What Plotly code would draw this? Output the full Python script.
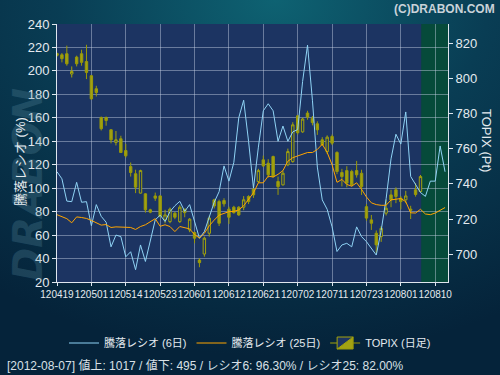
import base64
import plotly.graph_objects as go

# ---------------- data ----------------
tick_labels = ["120419", "120501", "120514", "120523", "120601", "120612",
               "120621", "120702", "120711", "120723", "120801", "120810"]
tick_step = 7  # trading days between labels

# TOPIX daily candles (open, high, low, close)
topix_open = [814, 813.3, 813.9, 802.4, 812, 813.9, 809.5, 801.4, 794, 777.7,
              777.7, 770.7, 763.5, 765.6, 758.9, 749.8, 745.7, 734.7, 734.3, 725.2,
              733.1, 733.1, 719.5, 718.5, 723.3, 718.5, 725.6, 713.8, 712.3, 696.7,
              700.1, 711.9, 730.9, 729.9, 730.5, 725.6, 726.7, 726.7, 726.7, 732.8,
              737, 741.3, 753.6, 751.7, 755.5, 741.3, 739.4, 750.8, 752.6, 778.6,
              769.5, 780.2, 777.3, 774.1, 765, 758.3, 766.9, 757.8, 746.4, 747.5,
              747, 747.5, 746, 727, 719.5, 711.9, 710, 723.3, 733.7, 736.6,
              731.8, 730.9, 725.6, 736.6, 735.6]
topix_high = [814.5, 814.3, 818.5, 806.7, 812.8, 816.2, 819, 801.8, 795.7, 778.2,
              778.2, 771, 770, 767.3, 762.7, 752.1, 748, 748, 734.7, 725.8,
              735, 733.5, 725.2, 726.5, 724, 727.8, 725.8, 720.5, 712.8, 697.7,
              710, 721.8, 731.5, 731, 731.8, 727, 727.5, 727.3, 733, 733.5,
              740, 748.5, 756, 754, 756, 744.1, 747.5, 760, 775, 779,
              777.5, 781.5, 778.5, 775.5, 766.5, 767.5, 768, 758.5, 748.5, 750,
              748, 753, 748, 728.5, 722.3, 713.5, 716, 731, 736.6, 738,
              733, 736, 727.5, 740.4, 745]
topix_low = [812.3, 809, 807.1, 800.4, 806.7, 807.1, 799.5, 787.7, 789.6, 770.3,
             773, 763, 761.8, 757.6, 754.9, 744.1, 734.7, 734.5, 723.6, 723.3,
             730.3, 721, 717.6, 717.6, 719.9, 717.8, 721, 712.5, 706.2, 692.6,
             698.6, 710, 726, 716, 727, 717.2, 723, 721.8, 725, 728.5,
             732, 740.5, 749.5, 743.5, 743.5, 733.7, 739, 750, 752, 768,
             769, 776.4, 773.2, 767.8, 761.5, 757, 762, 745.5, 738.5, 738,
             738.5, 743.5, 733.7, 719, 713.8, 700.5, 707, 722, 726.7, 729,
             725.5, 729, 720, 732.7, 735]
topix_close = [813, 811.1, 808.2, 803.8, 808.2, 809, 803.3, 788.3, 791.9, 771.3,
               776, 765, 765, 757.8, 755.9, 746.4, 738.1, 747.5, 725.2, 723.9,
               731.8, 721.4, 722.3, 725.6, 721, 726.7, 723.6, 719.9, 709.1, 695.2,
               709.1, 720.5, 727.4, 717.6, 728.6, 721, 723.6, 722.3, 730.9, 729.9,
               733.7, 747.5, 750.2, 745.1, 744.1, 738.4, 746, 758.3, 773.5, 769,
               776.8, 777.9, 774.8, 770.7, 762.2, 766.5, 763.1, 747, 744.1, 740.4,
               739.4, 745.1, 738.4, 720.5, 717.6, 705.3, 714.7, 726.1, 730.9, 732.8,
               729.9, 733.1, 725, 733.9, 744.1]

# 騰落レシオ (6日)
ratio6 = [114, 108, 89, 88.5, 105, 88, 88.5, 68, 86, 76,
          71, 50, 60, 58.7, 41.5, 45.8, 30.5, 51.6, 37.5, 54.4,
          73, 77, 71.6, 80, 85, 88.8, 80.2, 86, 71.6, 57.3,
          63, 76, 88, 97, 119, 106, 122, 160, 175, 140,
          100, 135, 166, 172, 166, 140, 153, 140, 148, 150,
          191, 222, 175, 118, 90, 82, 67, 46, 51.6, 53,
          50, 67, 58.7, 54.4, 49, 43, 64, 91, 125, 146,
          137.6, 165, 110, 103, 96.3, 93, 106, 106, 136, 114]
# 騰落レシオ (25日)
ratio25 = [77.4, 76, 74, 70.5, 75.5, 75, 74.2, 72.5, 70.8, 68.5,
           69, 66.5, 67, 66.8, 67, 66.5, 64.8, 67.3, 68.8, 71.5,
           74, 67.5, 68.8, 67.3, 63, 67.3, 66.4, 65.3, 60.5, 57.5,
           61.5, 68, 72.8, 77, 78.5, 80, 80.2, 81.5, 85, 90.5,
           96, 104.6, 104.6, 110.3, 109.5, 111.8, 115, 123, 126, 127.5,
           129, 130.4, 130.4, 133, 137.5, 130.5, 120, 105, 107.5, 103.2,
           101.7, 104.6, 99, 92.5, 87.5, 86, 85.4, 85.4, 90, 90.3,
           91.2, 88.5, 79, 78.8, 82.0, 78, 77.4, 78.8, 80.8, 83.5]

footer_text = "[2012-08-07] 値上: 1017 / 値下: 495 / レシオ6: 96.30% / レシオ25: 82.00%"

# ---------------- styling ----------------
FONT = "Liberation Sans, Noto Sans CJK JP, sans-serif"
TXT = "#e4eaef"
PLOT_BG = "#1c3462"
GREEN_BG = "#064a3a"
GRID = "rgba(200,210,230,0.45)"
AXLINE = "#dfe6ee"

W, H = 500, 375
L, R, T, B = 57, 52, 24, 93
pw, ph = W - L - R, H - T - B

cx = list(range(len(topix_open)))
lx = list(range(len(ratio6)))
tickvals = [i * tick_step for i in range(len(tick_labels))]
xmax = 79.6

fig = go.Figure()

fig.add_trace(go.Candlestick(
    x=cx, open=topix_open, high=topix_high, low=topix_low, close=topix_close,
    name="TOPIX (日足)", yaxis="y", xaxis="x",
    increasing=dict(line=dict(color="#a3a30c", width=1), fillcolor=PLOT_BG),
    decreasing=dict(line=dict(color="#9a9a08", width=1), fillcolor="#a2a212"),
    whiskerwidth=0, legendrank=3, hoverinfo="skip",
))
fig.add_trace(go.Scatter(
    x=lx, y=ratio6, mode="lines", name="騰落レシオ (6日)", yaxis="y2",
    line=dict(color="#8fd3f5", width=1), legendrank=1,
))
fig.add_trace(go.Scatter(
    x=lx, y=ratio25, mode="lines", name="騰落レシオ (25日)", yaxis="y2",
    line=dict(color="#ffa500", width=1), legendrank=2,
))

# gradient background
svg = ('<svg xmlns="http://www.w3.org/2000/svg" width="500" height="375">'
       '<defs><radialGradient id="g" cx="0.55" cy="0" r="0.95">'
       '<stop offset="0" stop-color="#0e6272"/>'
       '<stop offset="0.45" stop-color="#093d54"/>'
       '<stop offset="1" stop-color="#05233a"/>'
       '</radialGradient></defs>'
       '<rect width="500" height="375" fill="url(#g)"/></svg>')
src = "data:image/svg+xml;base64," + base64.b64encode(svg.encode()).decode()

fig.update_layout(
    width=W, height=H,
    margin=dict(l=L, r=R, t=T, b=B, pad=0, autoexpand=False),
    paper_bgcolor="#07304a",
    plot_bgcolor="rgba(0,0,0,0)",
    font=dict(family=FONT, color=TXT, size=12),
    showlegend=True,
    legend=dict(orientation="h", x=0.5, xref="container", xanchor="center",
                y=(-(343 - (T + ph)) / ph), yanchor="middle",
                font=dict(size=11, color=TXT), bgcolor="rgba(0,0,0,0)",
                itemwidth=30),
    images=[dict(source=src, xref="paper", yref="paper",
                 x=-L / pw, y=1 + T / ph, sizex=W / pw, sizey=H / ph,
                 xanchor="left", yanchor="top", sizing="stretch", layer="below")],
    xaxis=dict(range=[0, xmax], tickvals=tickvals, ticktext=tick_labels,
               showgrid=True, gridcolor=GRID, gridwidth=1, zeroline=False,
               showline=True, linecolor=AXLINE, linewidth=1,
               ticks="outside", ticklen=3, tickcolor=AXLINE, tickangle=0,
               tickfont=dict(size=10, color=TXT),
               rangeslider=dict(visible=False)),
    yaxis=dict(side="right", range=[684.2, 830.8], tickvals=list(range(680, 821, 20)),
               showgrid=False, zeroline=False, showline=True, linecolor=AXLINE,
               ticks="outside", ticklen=4, tickcolor=AXLINE,
               tickfont=dict(size=13, color=TXT)),
    yaxis2=dict(side="left", overlaying="y", range=[20, 240], dtick=20,
                showgrid=True, gridcolor=GRID, gridwidth=1, zeroline=False,
                showline=True, linecolor=AXLINE, ticks="outside", ticklen=4,
                tickcolor=AXLINE, tickfont=dict(size=13, color=TXT)),
    shapes=[
        dict(type="rect", xref="paper", yref="paper", x0=0, x1=1, y0=0, y1=1,
             fillcolor=PLOT_BG, line=dict(width=0), layer="below"),
        dict(type="rect", xref="x", yref="paper", x0=len(topix_open) - 1 + 0.15, x1=xmax,
             y0=0, y1=1, fillcolor=GREEN_BG, line=dict(width=0), layer="below"),
        dict(type="line", xref="paper", yref="y", x0=1, x1=1, y0=684.2, y1=680,
             line=dict(color=AXLINE, width=1)),
        dict(type="line", xref="paper", yref="y", x0=1, x1=1 + 4 / pw, y0=680, y1=680,
             line=dict(color=AXLINE, width=1)),
    ],
    annotations=[
        dict(text="<i>DRABON</i>", xref="paper", yref="paper", x=-29 / pw, y=(T + ph - 185) / ph,
             textangle=-90, showarrow=False,
             font=dict(family="DejaVu Sans", size=40, color="rgba(90,140,160,0.28)",
                       weight="bold"),
             xanchor="center", yanchor="middle"),
        dict(text="騰落レシオ (%)", xref="paper", yref="paper", x=(20 - L) / pw,
             y=(T + ph - 162) / ph, textangle=-90, showarrow=False,
             font=dict(size=13, color=TXT), xanchor="center", yanchor="middle"),
        dict(text="TOPIX (Pt)", xref="paper", yref="paper", x=(487 - L) / pw,
             y=(T + ph - 140) / ph, textangle=90, showarrow=False,
             font=dict(size=13, color=TXT), xanchor="center", yanchor="middle"),
        dict(text="680", xref="paper", yref="y", x=1 + 5 / pw, y=680,
             showarrow=False, xanchor="left", yanchor="middle",
             font=dict(size=13, color=TXT)),
        dict(text="<b>(C)DRABON.COM</b>", xref="paper", yref="paper",
             x=(497 - L) / pw, y=(T + ph - 9) / ph, showarrow=False,
             xanchor="right", yanchor="middle",
             font=dict(size=12, color="#c9d2d9")),
        dict(text=footer_text, xref="paper", yref="paper", x=(5 - L) / pw,
             y=(T + ph - 365) / ph, showarrow=False, xanchor="left", yanchor="middle",
             font=dict(size=12, color="#d8e0e6")),
    ],
)

fig.write_html("out.html", config={"displayModeBar": False},
               post_script="document.body.style.margin='0px';")
